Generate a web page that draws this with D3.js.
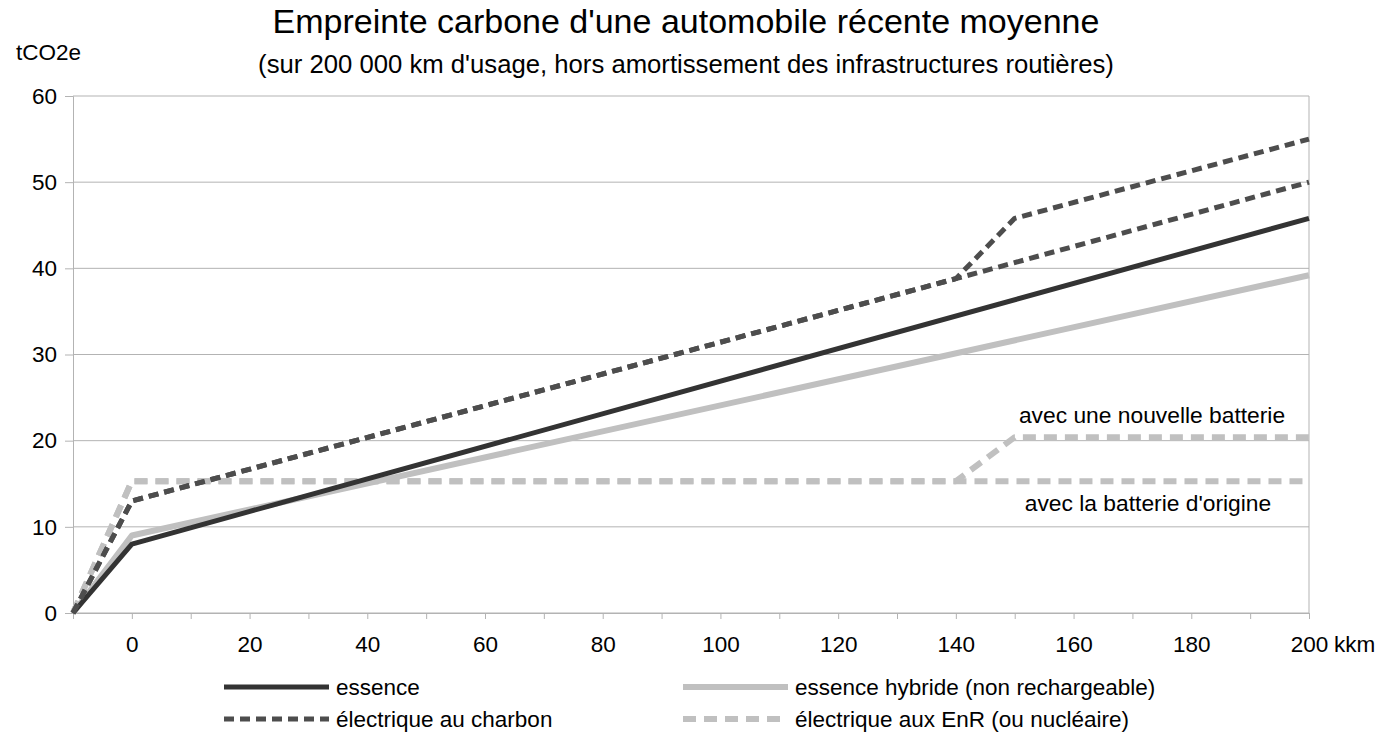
<!DOCTYPE html>
<html>
<head>
<meta charset="utf-8">
<script src="https://cdn.jsdelivr.net/npm/d3@7"></script>
<style>
  body { margin: 0; background: #fff; }
  text { font-family: "Liberation Sans", Arial, sans-serif; fill: #000; }
</style>
</head>
<body>
<div id="chart"></div>
<script>
// distances in thousand km, values in tCO2e
const xTicks = [0, 20, 40, 60, 80, 100, 120, 140, 160, 180, 200];
const yTicks = [0, 10, 20, 30, 40, 50, 60];

const essenceKm = [-10, 0, 200];
const essenceVal = [0, 8, 45.8];

const hybrideKm = [-10, 0, 200];
const hybrideVal = [0, 9, 39.2];

const charbonNewKm = [-10, 0, 140, 150, 200];
const charbonNewVal = [0, 13, 38.8, 45.8, 55];
const charbonOrigKm = [-10, 0, 140, 200];
const charbonOrigVal = [0, 13, 38.8, 50];

const enrNewKm = [-10, 0, 140, 150, 200];
const enrNewVal = [0, 15.3, 15.3, 20.4, 20.4];
const enrOrigKm = [-10, 0, 200];
const enrOrigVal = [0, 15.3, 15.3];

const zip = (xs, ys) => xs.map((x, i) => ({ x: x, y: ys[i] }));

const width = 1386, height = 747;
const svg = d3.select("#chart").append("svg")
    .attr("width", width)
    .attr("height", height);

const xscale = d3.scaleLinear().domain([-10, 200]).range([73, 1309]);
const yscale = d3.scaleLinear().domain([0, 60]).range([613, 96]);

// horizontal grid
svg.append("g")
    .selectAll("line")
    .data(yTicks)
    .enter()
    .append("line")
    .attr("x1", xscale(-10))
    .attr("x2", xscale(200))
    .attr("y1", d => yscale(d))
    .attr("y2", d => yscale(d))
    .attr("stroke", "#b3b3b3")
    .attr("stroke-width", 1);

// right border
svg.append("line")
    .attr("x1", xscale(200)).attr("x2", xscale(200))
    .attr("y1", yscale(60)).attr("y2", yscale(0))
    .attr("stroke", "#b3b3b3");

// x axis
const xaxis = d3.axisBottom(xscale)
    .tickValues(d3.range(-10, 201, 10))
    .tickSize(6)
    .tickFormat(d => xTicks.includes(d) ? d : "");
const gx = svg.append("g")
    .attr("transform", `translate(0, ${yscale(0)})`)
    .call(xaxis);
gx.select(".domain").attr("stroke", "#b3b3b3");
gx.selectAll(".tick line").attr("stroke", "#b3b3b3");
gx.selectAll(".tick text")
    .attr("y", 39)
    .attr("dy", 0)
    .style("font-size", "22.5px")
    .style("font-family", "Liberation Sans, Arial, sans-serif")
    .attr("fill", "#000");

svg.append("text")
    .attr("x", 1334)
    .attr("y", 652)
    .style("font-size", "22.5px")
    .text("kkm");

// y axis
const yaxis = d3.axisLeft(yscale)
    .tickValues(yTicks)
    .tickSize(8);
const gy = svg.append("g")
    .attr("transform", `translate(${xscale(-10)}, 0)`)
    .call(yaxis);
gy.select(".domain").attr("stroke", "#b3b3b3");
gy.selectAll(".tick line").attr("stroke", "#b3b3b3");
gy.selectAll(".tick text")
    .attr("x", -16)
    .style("font-size", "22.5px")
    .style("font-family", "Liberation Sans, Arial, sans-serif")
    .attr("fill", "#000");

svg.append("text")
    .attr("x", 16)
    .attr("y", 60)
    .style("font-size", "22.5px")
    .text("tCO2e");

// titles
svg.append("text")
    .attr("x", 686)
    .attr("y", 33)
    .attr("text-anchor", "middle")
    .style("font-size", "34px")
    .text("Empreinte carbone d'une automobile récente moyenne");

svg.append("text")
    .attr("x", 686)
    .attr("y", 73)
    .attr("text-anchor", "middle")
    .style("font-size", "25.7px")
    .text("(sur 200 000 km d'usage, hors amortissement des infrastructures routières)");

// series
const series = [
    { name: "électrique aux EnR (ou nucléaire)", parts: [zip(enrOrigKm, enrOrigVal), zip(enrNewKm, enrNewVal)],
      color: "#c0c0c0", width: 6, dash: "13,8" },
    { name: "essence hybride (non rechargeable)", parts: [zip(hybrideKm, hybrideVal)],
      color: "#c0c0c0", width: 6, dash: null },
    { name: "essence", parts: [zip(essenceKm, essenceVal)],
      color: "#333333", width: 5, dash: null },
    { name: "électrique au charbon", parts: [zip(charbonOrigKm, charbonOrigVal), zip(charbonNewKm, charbonNewVal)],
      color: "#4d4d4d", width: 5, dash: "10,6" }
];

const line = d3.line().x(d => xscale(d.x)).y(d => yscale(d.y));

series.forEach(s => {
    svg.append("g")
        .selectAll("path")
        .data(s.parts)
        .enter()
        .append("path")
        .attr("d", line)
        .attr("fill", "none")
        .attr("stroke", s.color)
        .attr("stroke-width", s.width)
        .attr("stroke-dasharray", s.dash)
        .attr("stroke-linejoin", "round");
});

// annotations
svg.append("text")
    .attr("x", 1152)
    .attr("y", 423)
    .attr("text-anchor", "middle")
    .style("font-size", "22.8px")
    .text("avec une nouvelle batterie");

svg.append("text")
    .attr("x", 1148)
    .attr("y", 511)
    .attr("text-anchor", "middle")
    .style("font-size", "22.8px")
    .text("avec la batterie d'origine");

// legend
const legendItems = [
    { name: "essence", color: "#333333", width: 5, dash: null, x: 224, y: 687 },
    { name: "essence hybride (non rechargeable)", color: "#c0c0c0", width: 6, dash: null, x: 683, y: 687 },
    { name: "électrique au charbon", color: "#4d4d4d", width: 5, dash: "10,6", x: 224, y: 719 },
    { name: "électrique aux EnR (ou nucléaire)", color: "#c0c0c0", width: 6, dash: "13,8", x: 683, y: 719 }
];

const legend = svg.append("g").attr("class", "legend");
legendItems.forEach(item => {
    const g = legend.append("g").attr("transform", `translate(${item.x}, ${item.y})`);
    g.append("line")
        .attr("x1", 0).attr("x2", 105)
        .attr("y1", 0).attr("y2", 0)
        .attr("stroke", item.color)
        .attr("stroke-width", item.width)
        .attr("stroke-dasharray", item.dash);
    g.append("text")
        .attr("x", 112)
        .attr("y", 8)
        .style("font-size", "22.5px")
        .text(item.name);
});
</script>
</body>
</html>
